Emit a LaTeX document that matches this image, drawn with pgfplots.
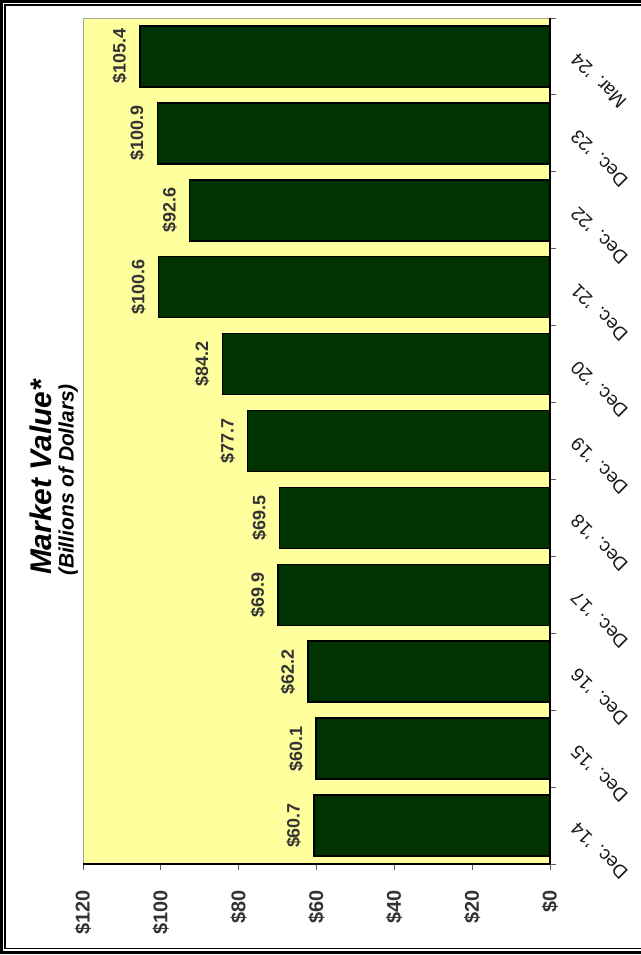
\documentclass[border=0pt]{standalone}
\usepackage{fontspec}
\setmainfont{Liberation Sans}
\usepackage{pgfplots}
\pgfplotsset{compat=1.18}
\definecolor{bg}{RGB}{255,255,158}
\definecolor{bargreen}{RGB}{0,51,0}
\definecolor{labgray}{RGB}{51,51,51}
\begin{document}
\begin{tikzpicture}[x=1bp,y=1bp]
\useasboundingbox (0,0) rectangle (641,955);
\begin{axis}[
  at={(83bp,91bp)}, anchor=south west,
  scale only axis, width=467bp, height=846bp,
  xbar, bar width=61bp,
  x dir=reverse,
  xmin=0, xmax=120,
  ymin=-0.5, ymax=10.5,
  /pgf/number format/assume math mode=true,
  axis background/.style={fill=bg, draw=gray!70},
  axis x line*=bottom,
  axis y line*=right,
  axis line style={-, black, line width=1.2bp},
  xtick={0,20,...,120},
  xticklabels={\$0,\$20,\$40,\$60,\$80,\$100,\$120},
  ytick={0,...,10},
  yticklabels={Dec. '14,Dec. '15,Dec. '16,Dec. '17,Dec. '18,Dec. '19,Dec. '20,Dec. '21,Dec. '22,Dec. '23,Mar. '24},
  minor ytick={-0.5,0.5,...,10.5},
  major y tick style={draw=none},
  tick align=outside,
  major tick length=6bp, minor tick length=6bp,
  tick style={gray!70!black, line width=0.8bp},
  xticklabel style={font=\fontsize{20}{22}\selectfont\bfseries, text=labgray, rotate=90, anchor=east, inner sep=0pt},
  xticklabel shift=20bp,
  yticklabel style={font=\fontsize{19}{21}\selectfont, text=black!90, rotate=135, anchor=east, inner sep=0pt},
  yticklabel shift=18bp,
  point meta=x,
  nodes near coords={\$\pgfmathprintnumber[fixed,fixed zerofill,precision=1]{\pgfplotspointmeta}},
  nodes near coords style={rotate=90, anchor=south, inner xsep=0pt, inner ysep=12bp, font=\fontsize{18}{20}\selectfont\bfseries, text=labgray},
]
\addplot[fill=bargreen, draw=black, line width=1.5bp] coordinates {
(60.7,0) (60.1,1) (62.2,2) (69.9,3) (69.5,4) (77.7,5) (84.2,6) (100.6,7) (92.6,8) (100.9,9) (105.4,10)
};
\end{axis}
\node[rotate=90, anchor=base, font=\fontsize{30}{32}\selectfont\bfseries\itshape] at (51,477.5) {Market Value*};
\node[rotate=90, anchor=base, font=\fontsize{21}{23}\selectfont\bfseries\itshape] at (73.5,475) {(Billions of Dollars)};
\draw[line width=3bp] (1.2,2.5) rectangle (700,953.7);
\draw[line width=1.6bp] (4.8,6.5) rectangle (700,950);
\end{tikzpicture}
\end{document}
